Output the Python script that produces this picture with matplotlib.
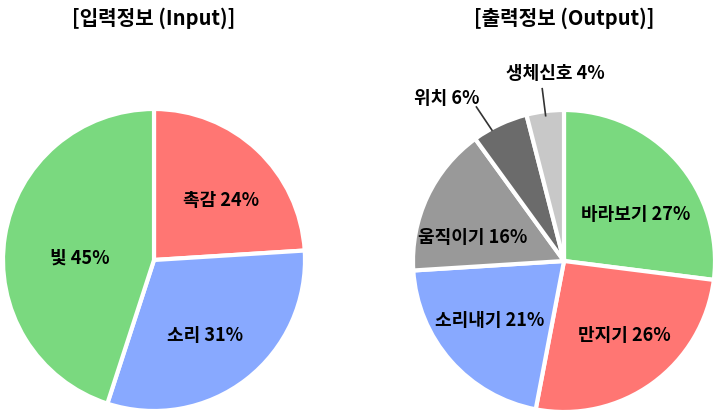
import numpy as np
import matplotlib
matplotlib.use("Agg")
import matplotlib.pyplot as plt

plt.rcParams['font.family'] = ['Noto Sans CJK KR', 'DejaVu Sans']

in_labels = ["촉감", "소리", "빛"]
in_values = [24, 31, 45]
in_colors = ["#FF7673", "#88A9FF", "#7AD97F"]

out_labels = ["바라보기", "만지기", "소리내기", "움직이기", "위치", "생체신호"]
out_values = [27, 26, 21, 16, 6, 4]
out_colors = ["#7AD97F", "#FF7673", "#88A9FF", "#999999", "#6B6B6B", "#C8C8C8"]

W, H = 719, 414
fig = plt.figure(figsize=(W / 100, H / 100), dpi=100)

def make_ax(cx, cy, r):
    return fig.add_axes([(cx - r) / W, (H - cy - r) / H, 2 * r / W, 2 * r / H])

R = 151
axL = make_ax(154, 261, R)
axR = make_ax(564, 262, R)

LFS = 13

def draw(ax, labels, values, colors, inside, ldist, loff):
    wedges, _ = ax.pie(values, colors=colors, startangle=90, counterclock=False,
                       radius=1,
                       wedgeprops=dict(edgecolor="white", linewidth=3))
    ax.set_xlim(-1, 1)
    ax.set_ylim(-1, 1)
    ax.axis("off")
    for i, (w, lab, v) in enumerate(zip(wedges, labels, values)):
        ang = np.deg2rad((w.theta1 + w.theta2) / 2 + loff[i])
        if inside[i]:
            ax.text(ldist[i] * np.cos(ang), ldist[i] * np.sin(ang), f"{lab} {v}%",
                    ha="center", va="center", fontsize=LFS, fontweight="bold")
    return wedges

draw(axL, in_labels, in_values, in_colors, [True, True, True],
     [0.6, 0.6, 0.49], [-4.5, -3.2, 6.7])
wR = draw(axR, out_labels, out_values, out_colors,
          [True, True, True, True, False, False],
          [0.57, 0.63, 0.63, 0.63, 0, 0], [-7.7, 3.4, -3.2, 10, 0, 0])

# outside labels with leader lines
outside = [(4, 0.98, 1.12, (-0.775, 1.08)), (5, 0.97, 1.15, (-0.06, 1.25))]
for idx, r0, r1, tpos in outside:
    w = wR[idx]
    ang = np.deg2rad((w.theta1 + w.theta2) / 2)
    if idx == 4:
        p0 = (r0 * np.cos(ang) - 0.06, r0 * np.sin(ang) - 0.02)
        p1 = (-0.58, 1.02)
    else:
        p0 = (r0 * np.cos(ang), r0 * np.sin(ang))
        p1 = (r1 * np.cos(ang), r1 * np.sin(ang))
    axR.plot([p0[0], p1[0]], [p0[1], p1[1]], color="#333333", lw=1.2,
             clip_on=False)
    axR.text(tpos[0], tpos[1], f"{out_labels[idx]} {out_values[idx]}%",
             ha="center", va="center", fontsize=LFS, fontweight="bold",
             clip_on=False)

fig.text(154 / W, 1 - 18 / H, "[입력정보 (Input)]", ha="center", va="center",
         fontsize=14.5, fontweight="bold")
fig.text(564 / W, 1 - 18 / H, "[출력정보 (Output)]", ha="center", va="center",
         fontsize=14.5, fontweight="bold")

fig.savefig("out.png", dpi=100)
